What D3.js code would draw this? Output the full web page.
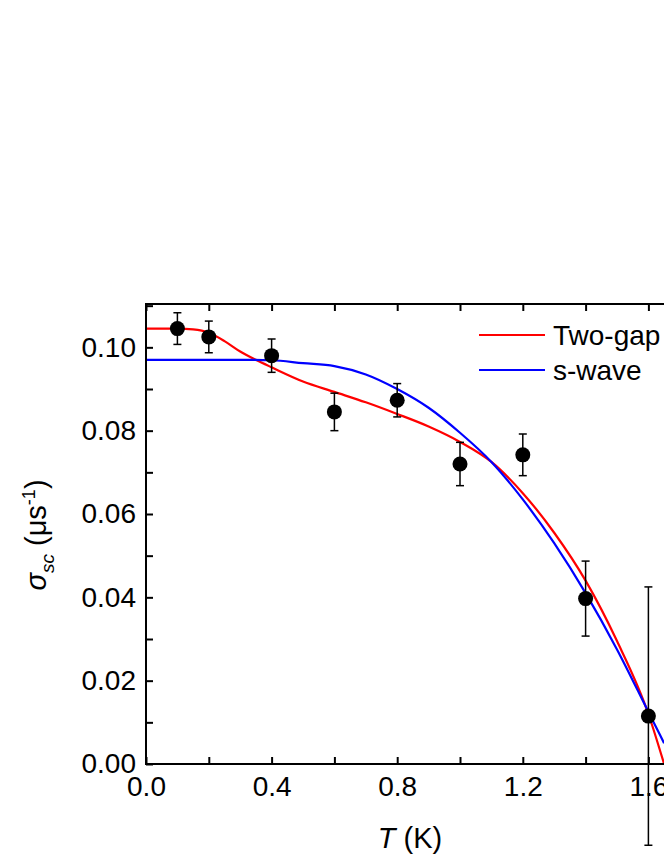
<!DOCTYPE html>
<html><head><meta charset="utf-8">
<script src="https://cdn.jsdelivr.net/npm/d3@7"></script>
<style>body{margin:0;background:#fff}svg{display:block;font-family:Arial,"Liberation Sans",sans-serif}</style>
</head><body><svg width="664" height="860"></svg>
<script>
var tData = [0.1, 0.2, 0.4, 0.6, 0.8, 1.0, 1.2, 1.4, 1.6];
var sigma = [0.1045, 0.1025, 0.098, 0.0845, 0.0873, 0.072, 0.0742, 0.0397, 0.0115];
var sigErr = [0.0038, 0.0038, 0.004, 0.0045, 0.004, 0.0052, 0.005, 0.009, 0.031];
var blueT = [0, 0.3, 0.4, 0.5, 0.6, 0.7, 0.8, 0.9, 1.0, 1.1, 1.2, 1.3, 1.4, 1.5, 1.6, 1.65];
var blueS = [0.097, 0.097, 0.0969, 0.0962, 0.0955, 0.0935, 0.09, 0.0855, 0.0795, 0.0725, 0.0635, 0.053, 0.041, 0.0275, 0.0125, 0.005];
var redT = [0, 0.1, 0.15, 0.2, 0.25, 0.3, 0.35, 0.4, 0.5, 0.6, 0.7, 0.8, 0.9, 1.0, 1.1, 1.2, 1.3, 1.4, 1.5, 1.6, 1.65];
var redS = [0.1045, 0.1045, 0.1043, 0.1035, 0.1015, 0.099, 0.097, 0.0952, 0.0918, 0.0893, 0.0868, 0.084, 0.081, 0.0773, 0.0725, 0.065, 0.0555, 0.044, 0.0295, 0.012, 0];
var xTicks = [0.0, 0.4, 0.8, 1.2, 1.6, 2.0];
var yTicks = [0, 0.02, 0.04, 0.06, 0.08, 0.10];

var svg = d3.select("svg");
var plotLeft = 146, plotTop = 304, plotBottom = 764;
var x = d3.scaleLinear().domain([0, 2.0]).range([plotLeft, plotLeft + 2.0 * 314]);
var y = d3.scaleLinear().domain([0, 0.1104]).range([plotBottom, plotTop]);

var g = svg.append("g");
var line = d3.line().x(function(d) { return x(d[0]); }).y(function(d) { return y(d[1]); }).curve(d3.curveMonotoneX);

g.append("path").datum(d3.zip(redT, redS)).attr("d", line).attr("fill", "none").attr("stroke", "#f00").attr("stroke-width", 2.2);
g.append("path").datum(d3.zip(blueT, blueS)).attr("d", line).attr("fill", "none").attr("stroke", "#00f").attr("stroke-width", 2.2);

var pts = g.selectAll(".pt").data(d3.range(tData.length)).enter().append("g");
pts.append("line").attr("x1", function(i) { return x(tData[i]); }).attr("x2", function(i) { return x(tData[i]); })
  .attr("y1", function(i) { return y(sigma[i] - sigErr[i]); }).attr("y2", function(i) { return y(sigma[i] + sigErr[i]); })
  .attr("stroke", "#000").attr("stroke-width", 1.5);
[-1, 1].forEach(function(s) {
  pts.append("line").attr("x1", function(i) { return x(tData[i]) - 4; }).attr("x2", function(i) { return x(tData[i]) + 4; })
    .attr("y1", function(i) { return y(sigma[i] + s * sigErr[i]); }).attr("y2", function(i) { return y(sigma[i] + s * sigErr[i]); })
    .attr("stroke", "#000").attr("stroke-width", 1.5);
});
pts.append("circle").attr("cx", function(i) { return x(tData[i]); }).attr("cy", function(i) { return y(sigma[i]); }).attr("r", 7.5).attr("fill", "#000");

// frame
g.append("rect").attr("x", plotLeft).attr("y", plotTop).attr("width", 700).attr("height", plotBottom - plotTop).attr("fill", "none").attr("stroke", "#000").attr("stroke-width", 2);

// axes
var xa = svg.append("g").attr("transform", "translate(0," + plotBottom + ")")
  .call(d3.axisBottom(x).tickValues(d3.range(0, 2.01, 0.2)).tickSize(-7).tickPadding(8).tickFormat(function(d) {
    return xTicks.some(function(t) { return Math.abs(t - d) < 1e-6; }) ? d3.format(".1f")(d) : "";
  }));
xa.select(".domain").remove();
xa.selectAll("line").attr("stroke-width", 2);
xa.selectAll("text").attr("font-size", 28).attr("fill", "#000").attr("dy", "0.85em");
var xt = svg.append("g").attr("transform", "translate(0," + plotTop + ")")
  .call(d3.axisTop(x).tickValues(d3.range(0, 2.01, 0.2)).tickSize(-7).tickFormat(""));
xt.select(".domain").remove();
xt.selectAll("line").attr("stroke-width", 2);

var ya = svg.append("g").attr("transform", "translate(" + plotLeft + ",0)")
  .call(d3.axisLeft(y).tickValues(d3.range(0, 0.1101, 0.01)).tickSize(-7).tickPadding(10).tickFormat(function(d) {
    return yTicks.some(function(t) { return Math.abs(t - d) < 1e-6; }) ? d3.format(".2f")(d) : "";
  }));
ya.select(".domain").remove();
ya.selectAll("line").attr("stroke-width", 2);
ya.selectAll("text").attr("font-size", 28).attr("fill", "#000");

// labels
svg.append("text").attr("x", 410).attr("y", 848).attr("text-anchor", "middle").attr("font-size", 29)
  .html('<tspan font-style="italic">T</tspan> (K)');
svg.append("text").attr("transform", "translate(46,535) rotate(-90)").attr("text-anchor", "middle").attr("font-size", 29)
  .html('<tspan font-style="italic">σ</tspan><tspan font-style="italic" font-size="19" dy="8">sc</tspan><tspan dy="-8"> (μs</tspan><tspan font-size="18" dy="-11">-1</tspan><tspan dy="11">)</tspan>');

// legend
var leg = [["Two-gap", "#f00"], ["s-wave", "#00f"]];
leg.forEach(function(l, i) {
  var ly = 335 + i * 35;
  svg.append("line").attr("x1", 479).attr("x2", 545).attr("y1", ly).attr("y2", ly).attr("stroke", l[1]).attr("stroke-width", 2.2);
  svg.append("text").attr("x", 553).attr("y", ly + 10).attr("font-size", 28).text(l[0]);
});
</script></body></html>
